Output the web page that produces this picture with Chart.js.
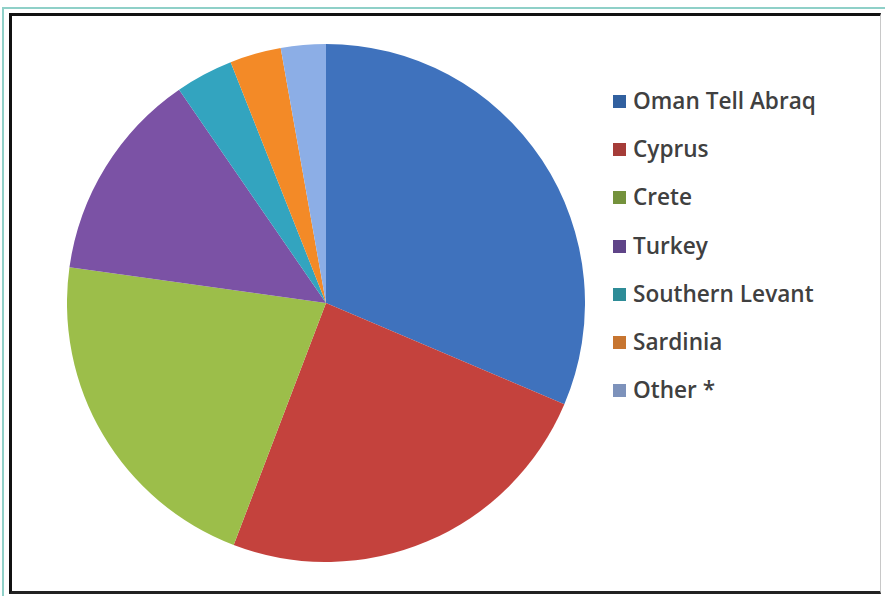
<!DOCTYPE html>
<html>
<head>
<meta charset="utf-8">
<script src="https://cdn.jsdelivr.net/npm/chart.js@4/dist/chart.umd.min.js"></script>
<style>
    html, body { margin: 0; padding: 0; background: #fff; }
    body { width: 885px; height: 596px; position: relative; overflow: hidden; }
    .outer-frame {
        position: absolute; left: 2px; top: 7px; width: 890px; height: 600px;
        border-left: 2px solid #8fd0c8; border-top: 2px solid #8fd0c8;
    }
    .inner-frame {
        position: absolute; left: 9px; top: 13px; width: 868px; height: 575px;
        border-left: 3px solid #111; border-top: 3px solid #111; border-bottom: 3px solid #222;
        border-right: 1px solid #c8c8c8;
    }
    #pie-box { position: absolute; left: 67px; top: 44px; width: 518px; height: 518px; }
    #legend { position: absolute; left: 613px; top: 86px; margin: 0; padding: 0; list-style: none; }
    #legend li {
        height: 48.2px; display: flex; align-items: flex-start;
        font-family: "Open Sans", sans-serif; font-weight: 600; font-size: 22.6px; color: #404040;
        line-height: 30px;
    }
    #legend .swatch { width: 13px; height: 13px; margin: 9px 7px 0 0; flex: none; }
</style>
</head>
<body>
<div class="outer-frame"></div>
<div class="inner-frame"></div>
<div id="pie-box"><canvas id="pie"></canvas></div>
<ul id="legend"></ul>

<script>
    // Share of finds by region
    const regions = ['Oman Tell Abraq', 'Cyprus', 'Crete', 'Turkey', 'Southern Levant', 'Sardinia', 'Other *'];
    const shares = [31.4, 24.4, 21.4, 13.2, 3.6, 3.2, 2.8];
    const sliceColors = ['#3f72bd', '#c4423d', '#9cbe4a', '#7b52a5', '#33a4bf', '#f38a27', '#8caee6'];
    const swatchColors = ['#31609f', '#a53c38', '#74923c', '#5f4488', '#2e8c97', '#c77530', '#7d92bb'];

    // Legend
    const legend = document.getElementById('legend');
    regions.forEach((name, i) => {
        const li = document.createElement('li');
        const sw = document.createElement('span');
        sw.className = 'swatch';
        sw.style.background = swatchColors[i];
        li.appendChild(sw);
        li.appendChild(document.createTextNode(name));
        legend.appendChild(li);
    });

    const ctx = document.getElementById('pie').getContext('2d');
    new Chart(ctx, {
        type: 'pie',
        data: {
            labels: regions,
            datasets: [{
                data: shares,
                backgroundColor: sliceColors,
                borderWidth: 0
            }]
        },
        options: {
            responsive: true,
            maintainAspectRatio: false,
            animation: false,
            layout: { padding: 0 },
            plugins: {
                legend: { display: false },
                tooltip: { enabled: false }
            }
        }
    });
</script>
</body>
</html>
